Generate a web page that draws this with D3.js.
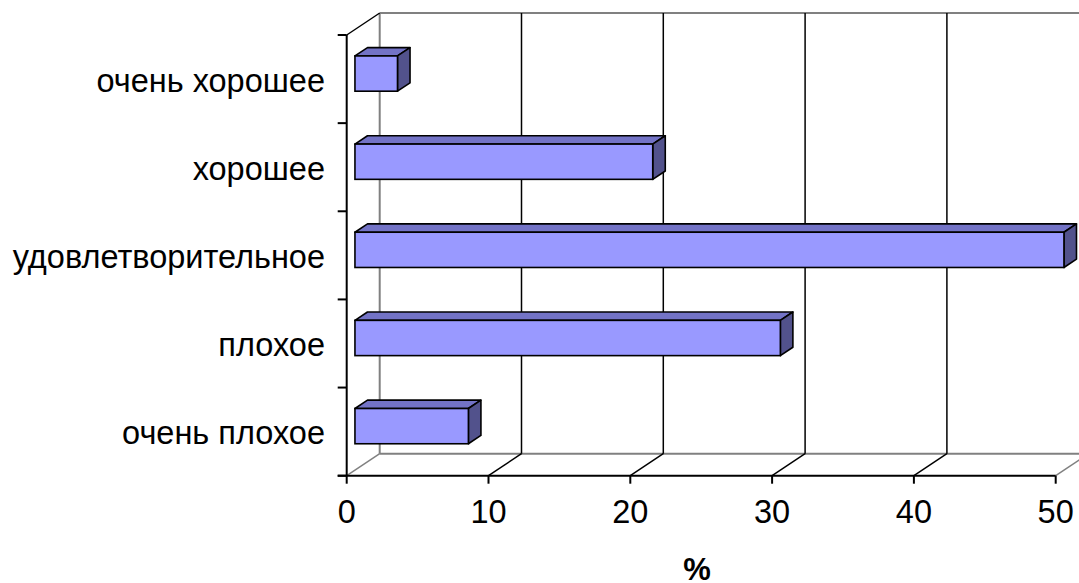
<!DOCTYPE html>
<html>
<head>
<meta charset="utf-8">
<script src="https://cdn.jsdelivr.net/npm/d3@7/dist/d3.min.js"></script>
<style>
  html, body { margin: 0; padding: 0; background: #fff; }
  svg { display: block; }
  text { font-family: "Liberation Sans", Arial, sans-serif; fill: #000; }
</style>
</head>
<body>
<svg id="chart" width="1079" height="583"></svg>
<script>
// Categories listed from the bottom of the chart upward
const categories = ["очень плохое", "плохое", "удовлетворительное", "хорошее", "очень хорошее"];
const values = [8, 30, 50, 21, 3];
const xTicks = [0, 10, 20, 30, 40, 50];
const axisTitle = "%";

(function () {
  const W = 1079;
  const svg = d3.select("#chart");
  const fontSize = "32.5px";

  // Plot frame (front plane) and 3D depth offset
  const pLeft = 346.7, pRight = 1055.7, pTop = 35, pBottom = 475.7;
  const DX = 33, DY = -22;                 // full depth of the box
  const barFront = 0.25, barDepth = 0.38;  // bar position inside the depth

  const x = d3.scaleLinear().domain([0, 50]).range([pLeft, pRight]);
  const y = d3.scaleBand().domain(categories.slice().reverse()).range([pTop, pBottom]);
  const barH = y.bandwidth() / 2.5;

  const grey = "#808080";

  // Back wall: outline and vertical gridlines
  const wall = svg.append("g");
  wall.append("line").attr("x1", pLeft + DX).attr("y1", pTop + DY).attr("x2", pLeft + DX).attr("y2", pBottom + DY)
    .attr("stroke", grey).attr("stroke-width", 2);
  wall.append("line").attr("x1", pLeft + DX).attr("y1", pTop + DY).attr("x2", W + 20).attr("y2", pTop + DY)
    .attr("stroke", grey).attr("stroke-width", 2);
  wall.append("line").attr("x1", pLeft + DX).attr("y1", pBottom + DY).attr("x2", W + 20).attr("y2", pBottom + DY)
    .attr("stroke", grey).attr("stroke-width", 2);
  wall.selectAll("line.grid").data(xTicks.filter(t => t > 0)).enter().append("line")
    .attr("class", "grid")
    .attr("x1", d => x(d) + DX).attr("x2", d => x(d) + DX)
    .attr("y1", pTop + DY).attr("y2", pBottom + DY)
    .attr("stroke", "#000").attr("stroke-width", 1.5);

  // Floor diagonals from each tick back to the wall
  wall.selectAll("line.floor").data(xTicks).enter().append("line")
    .attr("class", "floor")
    .attr("x1", d => x(d)).attr("y1", pBottom)
    .attr("x2", d => x(d) + DX).attr("y2", pBottom + DY)
    .attr("stroke", (d, i) => (i === 0 || i === xTicks.length - 1) ? grey : "#000")
    .attr("stroke-width", 1.5);

  // Side wall top edge
  wall.append("line").attr("x1", pLeft).attr("y1", pTop).attr("x2", pLeft + DX).attr("y2", pTop + DY)
    .attr("stroke", "#000").attr("stroke-width", 1.5);

  // Axes
  const axes = svg.append("g");
  axes.append("line").attr("x1", pLeft).attr("y1", pTop).attr("x2", pLeft).attr("y2", pBottom)
    .attr("stroke", "#000").attr("stroke-width", 2);
  axes.append("line").attr("x1", pLeft - 9).attr("y1", pBottom).attr("x2", pRight).attr("y2", pBottom)
    .attr("stroke", "#000").attr("stroke-width", 2);
  // category boundary ticks
  const bounds = categories.map(c => y(c)).concat([pBottom]);
  axes.selectAll("line.yt").data(bounds).enter().append("line")
    .attr("class", "yt")
    .attr("x1", pLeft - 9).attr("x2", pLeft).attr("y1", d => d).attr("y2", d => d)
    .attr("stroke", "#000").attr("stroke-width", 2);
  axes.selectAll("line.xt").data(xTicks).enter().append("line")
    .attr("class", "xt")
    .attr("x1", d => x(d)).attr("x2", d => x(d)).attr("y1", pBottom).attr("y2", pBottom + 8)
    .attr("stroke", "#000").attr("stroke-width", 2);

  // Tick labels
  axes.selectAll("text.xl").data(xTicks).enter().append("text")
    .attr("class", "xl")
    .attr("x", d => x(d)).attr("y", 523).attr("text-anchor", "middle")
    .style("font-size", fontSize).text(d => d);
  axes.selectAll("text.yl").data(categories).enter().append("text")
    .attr("class", "yl")
    .attr("x", 325).attr("y", d => y(d) + y.bandwidth() / 2 + 12.5).attr("text-anchor", "end")
    .style("font-size", fontSize).text(d => d);
  svg.append("text").attr("x", 697).attr("y", 580).attr("text-anchor", "middle")
    .style("font-size", "31px").style("font-weight", "bold").text(axisTitle);

  // 3D bars
  const bdx = DX * barDepth, bdy = DY * barDepth;
  const bars = svg.append("g").selectAll("g.bar").data(categories.map((c, i) => ({ c, v: values[i] })))
    .enter().append("g").attr("class", "bar");
  const geom = d => {
    const x0 = x(0) + DX * barFront, x1 = x(d.v) + DX * barFront;
    const y0 = y(d.c) + y.bandwidth() / 2 + DY * barFront - barH / 2, y1 = y0 + barH;
    return { x0, x1, y0, y1 };
  };
  const pts = a => a.map(p => p.join(",")).join(" ");
  bars.append("polygon").attr("points", d => { const g = geom(d);
    return pts([[g.x0, g.y0], [g.x1, g.y0], [g.x1 + bdx, g.y0 + bdy], [g.x0 + bdx, g.y0 + bdy]]); })
    .attr("fill", "#7373C6").attr("stroke", "#000").attr("stroke-width", 1.6).attr("stroke-linejoin", "round");
  bars.append("polygon").attr("points", d => { const g = geom(d);
    return pts([[g.x1, g.y0], [g.x1 + bdx, g.y0 + bdy], [g.x1 + bdx, g.y1 + bdy], [g.x1, g.y1]]); })
    .attr("fill", "#52528C").attr("stroke", "#000").attr("stroke-width", 1.6).attr("stroke-linejoin", "round");
  bars.append("rect")
    .attr("x", d => geom(d).x0).attr("y", d => geom(d).y0)
    .attr("width", d => geom(d).x1 - geom(d).x0).attr("height", barH)
    .attr("fill", "#9999FF").attr("stroke", "#000").attr("stroke-width", 1.6);
})();
</script>
</body>
</html>
